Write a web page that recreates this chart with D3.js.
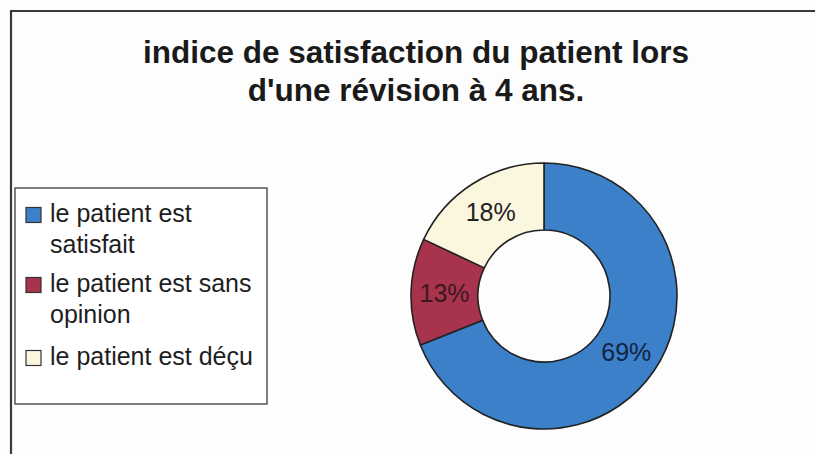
<!DOCTYPE html>
<html>
<head>
<meta charset="utf-8">
<script src="https://cdn.jsdelivr.net/npm/d3@7"></script>
<style>
  html, body { margin: 0; padding: 0; background: #fdfdfd; }
  svg { display: block; font-family: "Liberation Sans", Arial, Helvetica, sans-serif; }
</style>
</head>
<body>
<svg id="chart" width="815" height="454"></svg>
<script>
// Satisfaction survey at the 4-year revision
const titleLines = ["indice de satisfaction du patient lors", "d'une révision à 4 ans."];
const categories = ["le patient est satisfait", "le patient est sans opinion", "le patient est déçu"];
const legendLines = [["le patient est", "satisfait"], ["le patient est sans", "opinion"], ["le patient est déçu"]];
const values = [69, 13, 18];
const colors = ["#3b80c9", "#a8334c", "#fbf7de"];
const labelColors = ["#14233f", "#3a1820", "#222222"];

const svg = d3.select("#chart");
const W = 815, H = 454;

// chart frame (top and left edges)
svg.append("path")
  .attr("d", `M11,${H} L11,11 L${W},11`)
  .attr("fill", "none")
  .attr("stroke", "#3a3a3a")
  .attr("stroke-width", 2.2);

// title
const title = svg.append("text")
  .attr("text-anchor", "middle")
  .attr("font-size", 31.5)
  .attr("font-weight", "bold")
  .attr("fill", "#1a1a1a");
titleLines.forEach((t, i) => {
  title.append("tspan").attr("x", 416).attr("y", 63 + i * 38).text(t);
});

// legend
const legend = svg.append("g");
legend.append("rect")
  .attr("x", 15).attr("y", 188)
  .attr("width", 252).attr("height", 216)
  .attr("fill", "#ffffff")
  .attr("stroke", "#555555")
  .attr("stroke-width", 1.5);

const itemTop = [222, 292, 365];
categories.forEach((c, i) => {
  const g = legend.append("g");
  g.append("rect")
    .attr("x", 26).attr("y", itemTop[i] - 14.5)
    .attr("width", 15).attr("height", 15)
    .attr("fill", colors[i])
    .attr("stroke", "#333333")
    .attr("stroke-width", 1.2);
  const t = g.append("text")
    .attr("font-size", 25)
    .attr("fill", "#1e1e1e");
  legendLines[i].forEach((line, j) => {
    t.append("tspan").attr("x", 50).attr("y", itemTop[i] + j * 31).text(line);
  });
});

// donut
const cx = 544, cy = 296, rOuter = 133, rInner = 66;
const pie = d3.pie().sort(null).value(d => d)(values);
const arc = d3.arc().innerRadius(rInner).outerRadius(rOuter);

const donut = svg.append("g").attr("transform", `translate(${cx},${cy})`);
donut.selectAll("path.slice")
  .data(pie)
  .join("path")
  .attr("class", "slice")
  .attr("d", arc)
  .attr("fill", (d, i) => colors[i])
  .attr("stroke", "#222222")
  .attr("stroke-width", 1.6)
  .attr("stroke-linejoin", "round");

const total = d3.sum(values);
donut.selectAll("text.pct")
  .data(pie)
  .join("text")
  .attr("class", "pct")
  .attr("transform", d => `translate(${arc.centroid(d)})`)
  .attr("text-anchor", "middle")
  .attr("dy", "0.36em")
  .attr("font-size", 25)
  .attr("fill", (d, i) => labelColors[i])
  .text(d => Math.round(d.value / total * 100) + "%");
</script>
</body>
</html>
